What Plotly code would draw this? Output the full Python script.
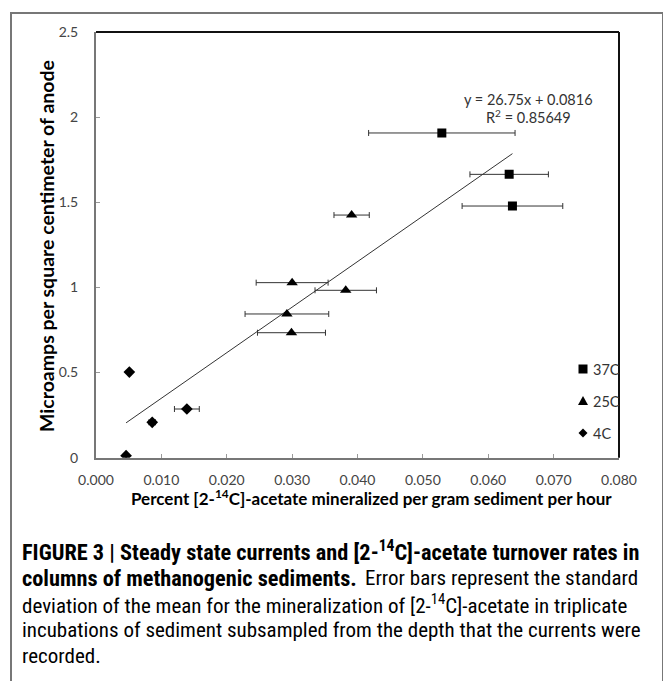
import plotly.graph_objects as go

# ---- data ----
x37 = [0.0529, 0.0632, 0.0637]
y37 = [1.907, 1.664, 1.478]
e37 = [0.0112, 0.0060, 0.0077]

x25 = [0.0391, 0.0300, 0.0382, 0.0292, 0.0299]
y25 = [1.425, 1.028, 0.983, 0.844, 0.734]
e25 = [0.0027, 0.0055, 0.0047, 0.0064, 0.0052]

x4 = [0.0051, 0.0086, 0.0139, 0.0046]
y4 = [0.503, 0.208, 0.286, 0.012]
e4 = [0.0, 0.0005, 0.0019, 0.0]

slope = 26.75
intercept = 0.0816
r2 = 0.85649

x_ticks = [0.0, 0.01, 0.02, 0.03, 0.04, 0.05, 0.06, 0.07, 0.08]
x_tick_labels = ["0.000", "0.010", "0.020", "0.030", "0.040", "0.050", "0.060", "0.070", "0.080"]
y_ticks = [0, 0.5, 1, 1.5, 2, 2.5]
y_tick_labels = ["0", "0.5", "1", "1.5", "2", "2.5"]

series_names = ["37C", "25C", "4C"]

# the page body has an 8px margin, so the figure is 8px smaller on each axis
OFF = 8
W, H = 671 - OFF, 681 - OFF
L, R, T, B = 96, 619, 32, 457.7

def px(xp):
    return (xp - OFF) / W

def py(yp):
    return 1 - (yp - OFF) / H

all_x = x37 + x25 + x4
xmin, xmax = min(all_x), max(all_x)

fig = go.Figure()

err_style = dict(type="data", thickness=1, width=3, color="#333")

fig.add_trace(go.Scatter(
    x=[xmin, xmax], y=[slope * xmin + intercept, slope * xmax + intercept],
    mode="lines", line=dict(color="#333", width=1), showlegend=False, hoverinfo="skip"))

fig.add_trace(go.Scatter(
    x=x37, y=y37, mode="markers", name=series_names[0],
    marker=dict(symbol="square", size=9, color="black"),
    error_x=dict(array=e37, **err_style)))
fig.add_trace(go.Scatter(
    x=x25, y=y25, mode="markers", name=series_names[1],
    marker=dict(symbol="triangle-up", size=10, color="black"),
    error_x=dict(array=e25, **err_style)))
fig.add_trace(go.Scatter(
    x=x4, y=y4, mode="markers", name=series_names[2],
    marker=dict(symbol="diamond", size=9, color="black"),
    error_x=dict(array=e4, **err_style)))

FONT = "Lato, Open Sans, sans-serif"
tick_font = dict(family=FONT, size=14, color="#444")

fig.update_layout(
    width=W, height=H,
    margin=dict(l=0, r=0, t=0, b=0, autoexpand=False),
    paper_bgcolor="white", plot_bgcolor="white",
    showlegend=False,
    xaxis=dict(
        domain=[px(L), px(R)], range=[0, 0.08], automargin=False,
        tickvals=x_ticks, ticktext=x_tick_labels,
        ticks="inside", ticklen=4, tickcolor="#999", tickwidth=1,
        showline=True, linecolor="#777", linewidth=2,
        showgrid=False, zeroline=False, tickfont=tick_font,
        ticklabelstandoff=8,
    ),
    yaxis=dict(
        domain=[py(B), py(T)], range=[0, 2.5], automargin=False,
        tickvals=y_ticks, ticktext=y_tick_labels,
        ticks="inside", ticklen=4, tickcolor="#999", tickwidth=1,
        showline=True, linecolor="#777", linewidth=2,
        showgrid=False, zeroline=False, tickfont=tick_font,
        ticklabelstandoff=13,
    ),
)

# axis titles
title_font_x = dict(family=FONT, size=17, color="black")
title_font_y = dict(family=FONT, size=19.5, color="black")
fig.add_annotation(xref="paper", yref="paper", x=px(371), y=py(497), showarrow=False,
                   text="<b>Percent [2-<sup>14</sup>C]-acetate mineralized per gram sediment per hour</b>",
                   font=title_font_x, xanchor="center", yanchor="middle")
fig.add_annotation(xref="paper", yref="paper", x=px(46), y=py(246), showarrow=False,
                   text="<b>Microamps per square centimeter of anode</b>", textangle=-90,
                   font=title_font_y, xanchor="center", yanchor="middle")

# top & right border of plot area
fig.add_shape(type="line", xref="paper", yref="paper", x0=px(L), x1=px(R), y0=py(T), y1=py(T),
              line=dict(color="#111", width=2))
fig.add_shape(type="line", xref="paper", yref="paper", x0=px(R), x1=px(R), y0=py(T), y1=py(B),
              line=dict(color="#111", width=2))
# outer frame
fig.add_shape(type="rect", xref="paper", yref="paper", x0=px(11), x1=px(663), y0=-0.02, y1=py(13),
              line=dict(color="#777", width=2), layer="below")

# legend (manual, inside plot area)
leg_font = dict(family=FONT, size=14.5, color="#333")
leg_y = [369, 401, 433]
cx = 583
s = 4.5
for name, yy in zip(series_names, leg_y):
    if name == "37C":
        path = f"M{px(cx-s)},{py(yy-s)} L{px(cx+s)},{py(yy-s)} L{px(cx+s)},{py(yy+s)} L{px(cx-s)},{py(yy+s)} Z"
    elif name == "25C":
        path = f"M{px(cx-5)},{py(yy+4)} L{px(cx+5)},{py(yy+4)} L{px(cx)},{py(yy-5)} Z"
    else:
        path = f"M{px(cx)},{py(yy-4.5)} L{px(cx+4.5)},{py(yy)} L{px(cx)},{py(yy+4.5)} L{px(cx-4.5)},{py(yy)} Z"
    fig.add_shape(type="path", xref="paper", yref="paper", path=path,
                  fillcolor="black", line=dict(color="black", width=0))
    fig.add_annotation(xref="paper", yref="paper", x=px(591), y=py(yy), showarrow=False,
                       text=name, font=leg_font, xanchor="left", yanchor="middle")

# regression text
eq_font = dict(family=FONT, size=14.5, color="#333")
fig.add_annotation(xref="paper", yref="paper", x=px(528), y=py(100), showarrow=False,
                   text=f"y = {slope}x + {intercept}", font=eq_font, xanchor="center", yanchor="middle")
fig.add_annotation(xref="paper", yref="paper", x=px(528), y=py(117), showarrow=False,
                   text=f"R<sup>2</sup> = {r2}", font=eq_font, xanchor="center", yanchor="middle")

# caption
CAP = "Liberation Sans Narrow, Roboto Condensed, Arial Narrow, sans-serif"
cap_reg = dict(family=CAP, size=21, color="black")
cap_bold = dict(family=CAP, size=22.3, color="black")
# (text, x, y, font)
cap_parts = [
    ("<b>FIGURE 3 | Steady state currents and [2-<sup>14</sup>C]-acetate turnover rates in</b>", 20, 551, cap_bold),
    ("<b>columns of methanogenic sediments.</b>", 20, 578, cap_bold),
    ("Error bars represent the standard", 363, 578, cap_reg),
    ("deviation of the mean for the mineralization of [2-<sup>14</sup>C]-acetate in triplicate", 20, 604, cap_reg),
    ("incubations of sediment subsampled from the depth that the currents were", 20, 630, cap_reg),
    ("recorded.", 20, 656, cap_reg),
]
for t, xx, yy, f in cap_parts:
    fig.add_annotation(xref="paper", yref="paper", x=px(xx), y=py(yy), showarrow=False,
                       text=t, font=f, xanchor="left", yanchor="middle", align="left")

fig.write_html("out.html")
